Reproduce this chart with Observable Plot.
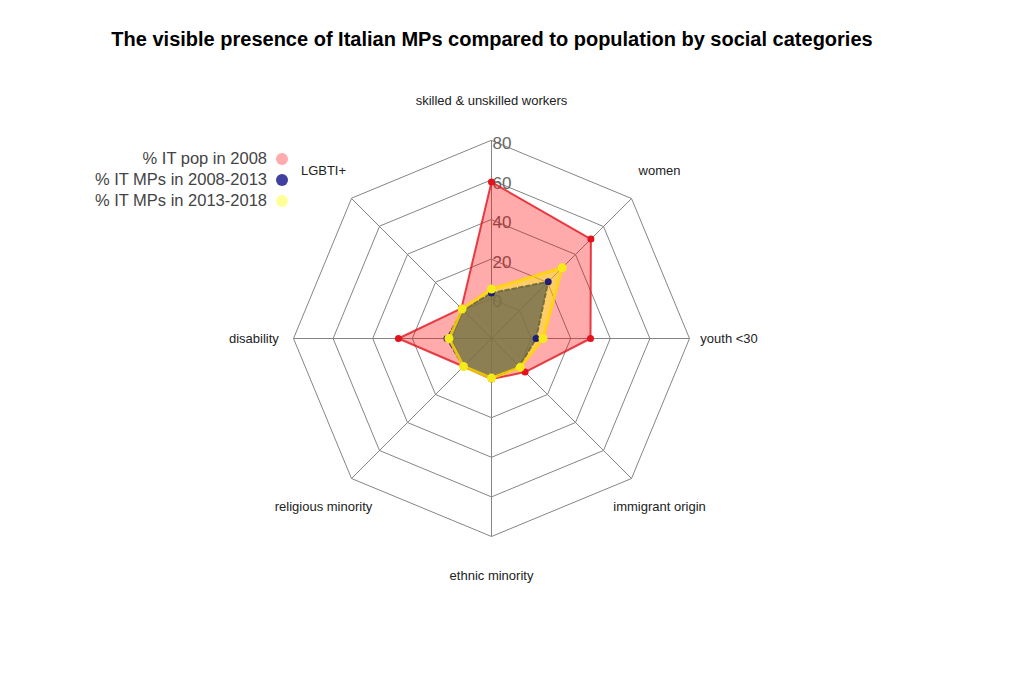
<!DOCTYPE html>
<html>
<head>
<meta charset="utf-8">
<script src="https://cdn.jsdelivr.net/npm/d3@7"></script>
<script src="https://cdn.jsdelivr.net/npm/@observablehq/plot@0.6"></script>
<style>
  html, body { margin: 0; padding: 0; background: #fff; }
  #wrap { position: relative; width: 1024px; height: 695px; font-family: "Liberation Sans", Arial, sans-serif; }
  #title { position: absolute; left: 0; width: 984px; top: 28px; text-align: center; font-weight: bold; font-size: 20px; color: #000; }
  #chart { position: absolute; left: 0; top: 60px; }
  #legend { position: absolute; left: 40px; top: 148px; width: 248px; font-size: 16.5px; color: #444; }
  .row { display: flex; justify-content: flex-end; align-items: center; height: 21px; }
  .sw { display: inline-block; width: 12px; height: 12px; border-radius: 50%; margin-left: 9px; }
</style>
</head>
<body>
<div id="wrap">
  <div id="title"></div>
  <div id="chart"></div>
  <div id="legend"></div>
</div>
<script>
// ---- data ----
const title = "The visible presence of Italian MPs compared to population by social categories";
const categories = ["skilled & unskilled workers", "women", "youth <30", "immigrant origin",
                    "ethnic minority", "religious minority", "disability", "LGBTI+"];
const seriesNames = ["% IT pop in 2008", "% IT MPs in 2008-2013", "% IT MPs in 2013-2018"];
const pop2008 = [59, 51, 30, 4, 0.5, 0, 27, 1.5];
const mps2008_2013 = [3, 20.5, 2.5, 0, 0, 0, 2.5, 0.5];
const mps2013_2018 = [5, 30.5, 6, 0.5, 0, 0, 1.5, 1];
const tickValues = [0, 20, 40, 60, 80];
const tickLabels = ["0", "20", "40", "60", "80"];

// ---- styles ----
const fills = ["rgba(255,0,0,0.33)", "rgba(0,0,128,0.75)", "rgba(255,255,0,0.4)"];
const strokes = ["rgba(225,20,30,0.8)", "rgba(0,0,100,0.85)", "rgba(255,215,0,0.85)"];
const dotColors = ["#e3121c", "#1e1e78", "#f5ea1a"];

document.getElementById("title").textContent = title;
const legend = document.getElementById("legend");
seriesNames.forEach((s, k) => {
  const row = document.createElement("div");
  row.className = "row";
  const t = document.createElement("span"); t.textContent = s;
  const sw = document.createElement("span"); sw.className = "sw"; sw.style.background = fills[k];
  row.appendChild(t); row.appendChild(sw);
  legend.appendChild(row);
});

// ---- geometry ----
const W = 1024, H = 635, cx = 491, cy = 278, R = 198;
const n = categories.length;
const rad = v => (v + 20) / 100;          // outer ring (80) -> 1, value 0 -> inner ring
const ang = i => i * 2 * Math.PI / n;       // clockwise from top

const allSeries = [pop2008, mps2008_2013, mps2013_2018];
const pts = allSeries.map((vals, k) => vals.map((v, i) => ({
  series: seriesNames[k], cat: categories[i],
  x: rad(v) * Math.sin(ang(i)), y: rad(v) * Math.cos(ang(i))
})));

const rings = tickValues.flatMap(t => categories.map((c, i) => ({
  level: t, x: rad(t) * Math.sin(ang(i)), y: rad(t) * Math.cos(ang(i))
})));
const spokes = categories.map((c, i) => ({ x2: Math.sin(ang(i)), y2: Math.cos(ang(i)) }));
const labels = categories.map((c, i) => ({
  label: c, x: 1.2 * Math.sin(ang(i)), y: 1.2 * Math.cos(ang(i))
}));
const ticks = tickValues.map((t, j) => ({ label: tickLabels[j], x: 0, y: rad(t) }));

const marks = [
  Plot.line(rings, { x: "x", y: "y", z: "level", curve: "linear-closed", stroke: "#858585", strokeWidth: 1 }),
  Plot.link(spokes, { x1: 0, y1: 0, x2: "x2", y2: "y2", stroke: "#858585", strokeWidth: 1 }),
  Plot.text(ticks, { x: "x", y: "y", text: "label", textAnchor: "start", dx: 1, dy: 3, fontSize: 17, fill: "#666" }),
  Plot.text(labels, { x: "x", y: "y", text: "label", fontSize: 13, fill: "#222" })
];
const dashes = [null, "4,3", null];
const widths = [2, 2, 3];
pts.forEach((p, k) => {
  const opts = { x: "x", y: "y", curve: "linear-closed", fill: fills[k], stroke: strokes[k], strokeWidth: widths[k] };
  if (dashes[k]) opts.strokeDasharray = dashes[k];
  marks.push(Plot.line(p, opts));
});
pts.forEach((p, k) => {
  marks.push(Plot.dot(p, { x: "x", y: "y", r: k === 2 ? 4.5 : 3.5, fill: dotColors[k], stroke: "none" }));
});

const chart = Plot.plot({
  width: W, height: H,
  marginLeft: 0, marginRight: 0, marginTop: 0, marginBottom: 0,
  x: { domain: [-cx / R, (W - cx) / R], range: [0, W], axis: null },
  y: { domain: [-(H - cy) / R, cy / R], range: [H, 0], axis: null },
  style: { fontFamily: "Liberation Sans, Arial, sans-serif", background: "white" },
  marks
});
document.getElementById("chart").appendChild(chart);
</script>
</body>
</html>
